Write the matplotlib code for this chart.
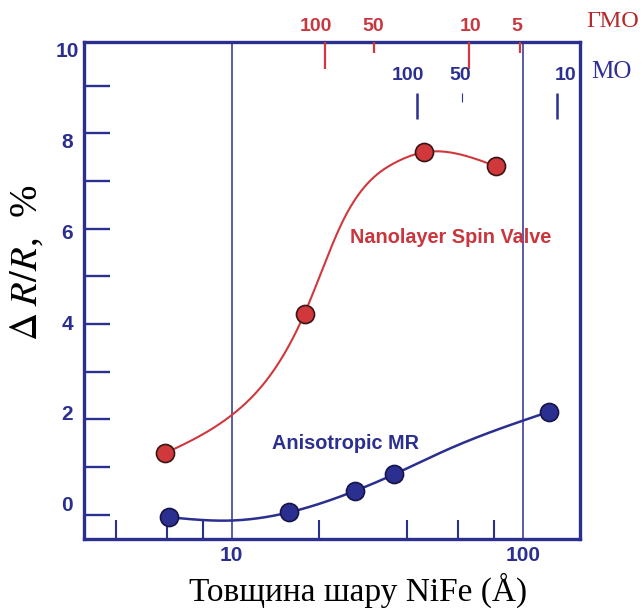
import numpy as np
import matplotlib
matplotlib.use("Agg")
import matplotlib.pyplot as plt
from matplotlib.ticker import FixedLocator, FixedFormatter, NullFormatter, MultipleLocator
from matplotlib.transforms import ScaledTranslation

plt.rcParams['font.family'] = ['Liberation Sans', 'DejaVu Sans']
plt.rcParams['mathtext.fontset'] = 'stix'

BLUE = '#2b2f8f'
RED = '#d0383c'

# measured points, NiFe thickness (A) vs dR/R (%)
sv_x = [5.9, 17.8, 45.8, 80.8]
sv_y = [1.29, 4.22, 7.60, 7.31]
amr_x = [6.1, 15.7, 26.5, 36.2, 123.1]
amr_y = [-0.05, 0.05, 0.50, 0.85, 2.16]

# hand-drawn guide curves through the points
sv_curve_x = [5.9, 10.0, 17.8, 24.2, 36.9, 45.8, 80.8]
sv_curve_y = [1.29, 2.09, 4.22, 6.18, 7.40, 7.60, 7.31]
amr_curve_x = [6.1, 9.87, 15.7, 26.5, 36.2, 56.2, 123.1]
amr_curve_y = [-0.05, -0.12, 0.05, 0.50, 0.85, 1.39, 2.16]

# auxiliary scales on top (GMR and AMR thickness)
gmr_major = [20.9, 65.4]
gmr_major_lab = ['100', '10']
gmr_minor = [30.8, 97.9]
gmr_minor_lab = ['50', '5']
amr_major = [43.4, 131.3]
amr_major_lab = ['100', '10']
amr_minor = [61.8]
amr_minor_lab = ['50']

y_labels = [0, 2, 4, 6, 8, 10]


def natural_spline(t, y, tt):
    t = np.asarray(t, float)
    y = np.asarray(y, float)
    n = len(t)
    h = np.diff(t)
    d = np.diff(y) / h
    A = np.zeros((n, n))
    r = np.zeros(n)
    A[0, 0] = A[-1, -1] = 1
    for i in range(1, n - 1):
        A[i, i - 1] = h[i - 1]
        A[i, i] = 2 * (h[i - 1] + h[i])
        A[i, i + 1] = h[i]
        r[i] = 6 * (d[i] - d[i - 1])
    M = np.linalg.solve(A, r)
    idx = np.clip(np.searchsorted(t, tt) - 1, 0, n - 2)
    s = tt - t[idx]
    hi = h[idx]
    return (y[idx] + (d[idx] - hi * (2 * M[idx] + M[idx + 1]) / 6) * s
            + M[idx] / 2 * s ** 2 + (M[idx + 1] - M[idx]) / (6 * hi) * s ** 3)


def smooth(xs, ys):
    t = np.log10(xs)
    tt = np.linspace(t[0], t[-1], 400)
    return 10 ** tt, natural_spline(t, ys, tt)


def shift_labels(ticks, offsets, top=True):
    # nudge individual tick labels sideways (offsets in pixels)
    for tick, dx in zip(ticks, offsets):
        lab = tick.label2 if top else tick.label1
        lab.set_transform(lab.get_transform() + ScaledTranslation(dx / 100, 0, fig.dpi_scale_trans))


fig = plt.figure(figsize=(6.44, 6.14), dpi=100)
ax = fig.add_axes([0.1304, 0.1221, 0.7702, 0.8095])

ax.set_xscale('log')
ax.set_xlim(3.108, 157.4)
ax.set_ylim(-0.507, 9.912)

for s in ax.spines.values():
    s.set_color(BLUE)
    s.set_linewidth(2.4)

ax.xaxis.set_major_locator(FixedLocator([10, 100]))
ax.xaxis.set_major_formatter(FixedFormatter(['10', '100']))
ax.xaxis.set_minor_locator(FixedLocator([4, 6, 8, 20, 40, 60, 80]))
ax.xaxis.set_minor_formatter(NullFormatter())
ax.tick_params(axis='x', which='major', length=0, pad=5, labelsize=15,
               labelcolor=BLUE, top=False)
ax.tick_params(axis='x', which='minor', direction='in', length=13.7, width=1.5,
               color=BLUE, top=False)
for lab in ax.get_xticklabels():
    lab.set_fontweight('bold')
ax.grid(True, axis='x', which='major', color=BLUE, lw=1.1)

ax.yaxis.set_major_locator(MultipleLocator(1))
ax.tick_params(axis='y', which='major', direction='in', length=18.7, width=1.7,
               color=BLUE, labelleft=False, right=False)
ax.tick_params(axis='y', which='minor', left=False, right=False)

# curves and points
cx, cy = smooth(sv_curve_x, sv_curve_y)
ax.plot(cx, cy, color=RED, lw=1.5, zorder=3)
cx, cy = smooth(amr_curve_x, amr_curve_y)
ax.plot(cx, cy, color=BLUE, lw=1.8, zorder=3)
ax.plot(sv_x, sv_y, 'o', ms=13, mfc=RED, mec='#3a1515', mew=1.2, zorder=4)
ax.plot(amr_x, amr_y, 'o', ms=13, mfc=BLUE, mec='#15154a', mew=1.2, zorder=4)

ax.text(25.5, 5.82, 'Nanolayer Spin Valve', color='#c8363e', fontsize=14.3,
        fontweight='bold', ha='left', va='center')
ax.text(13.75, 1.5, 'Anisotropic MR', color=BLUE, fontsize=14.3,
        fontweight='bold', ha='left', va='center')

# y tick labels
ax_lab = ax.twinx()
ax_lab.set_ylim(-0.782, 10.172)
ax_lab.yaxis.tick_left()
ax_lab.set_yticks(y_labels)
ax_lab.set_yticklabels([str(v) for v in y_labels])
ax_lab.tick_params(axis='y', length=0, pad=12.2, labelsize=15, labelcolor=BLUE,
                   left=False, right=False, labelleft=True, labelright=False)
for lab in ax_lab.get_yticklabels():
    lab.set_fontweight('bold')
    lab.set_horizontalalignment('center')
for s in ax_lab.spines.values():
    s.set_visible(False)

# GMR scale along top spine
ax_g = ax.twiny()
ax_g.set_xscale('log')
ax_g.set_xlim(ax.get_xlim())
ax_g.xaxis.set_major_locator(FixedLocator(gmr_major))
ax_g.xaxis.set_major_formatter(FixedFormatter(gmr_major_lab))
ax_g.xaxis.set_minor_locator(FixedLocator(gmr_minor))
ax_g.xaxis.set_minor_formatter(FixedFormatter(gmr_minor_lab))
ax_g.tick_params(axis='x', which='major', direction='in', length=19.4, width=1.6,
                 color=RED, pad=5, labelsize=14, labelcolor='#c8363e')
ax_g.tick_params(axis='x', which='minor', direction='in', length=8, width=1.6,
                 color=RED, pad=5, labelsize=14, labelcolor='#c8363e')
for lab in ax_g.get_xticklabels(which='both'):
    lab.set_fontweight('bold')
for s in ax_g.spines.values():
    s.set_visible(False)
shift_labels(ax_g.xaxis.get_major_ticks(), [-9, 2])
shift_labels(ax_g.xaxis.get_minor_ticks(), [-1, -3])

# AMR scale floating below
ax_m = ax.twiny()
ax_m.set_xscale('log')
ax_m.set_xlim(ax.get_xlim())
ax_m.spines['top'].set_position(('axes', 0.8974))
ax_m.xaxis.set_major_locator(FixedLocator(amr_major))
ax_m.xaxis.set_major_formatter(FixedFormatter(amr_major_lab))
ax_m.xaxis.set_minor_locator(FixedLocator(amr_minor))
ax_m.xaxis.set_minor_formatter(FixedFormatter(amr_minor_lab))
ax_m.tick_params(axis='x', which='major', direction='in', length=18.7, width=1.8,
                 color=BLUE, pad=6.5, labelsize=14, labelcolor=BLUE)
ax_m.tick_params(axis='x', which='minor', direction='in', length=6.5, width=0.8,
                 color=BLUE, pad=6.5, labelsize=14, labelcolor=BLUE)
for lab in ax_m.get_xticklabels(which='both'):
    lab.set_fontweight('bold')
for s in ax_m.spines.values():
    s.set_visible(False)
shift_labels(ax_m.xaxis.get_major_ticks(), [-9, 8])
shift_labels(ax_m.xaxis.get_minor_ticks(), [-2])

fig.text(0.952, 0.965, 'ГМО', color='#b52a2e', fontsize=17.5,
         family=['Liberation Serif', 'DejaVu Serif'], ha='center', va='center')
fig.text(0.950, 0.883, 'МО', color='#2e3192', fontsize=18,
         family=['Liberation Serif', 'DejaVu Serif'], ha='center', va='center')

fig.text(0.556, 0.039, 'Товщина шару NiFe (Å)', fontsize=24,
         family=['Liberation Serif', 'DejaVu Serif'], ha='center', va='center')
fig.text(0.042, 0.572, r'$\Delta\;R/R$,  %', fontsize=28, rotation=90,
         family=['Liberation Serif', 'DejaVu Serif'], ha='center', va='center')

fig.savefig('out.png', dpi=100)
